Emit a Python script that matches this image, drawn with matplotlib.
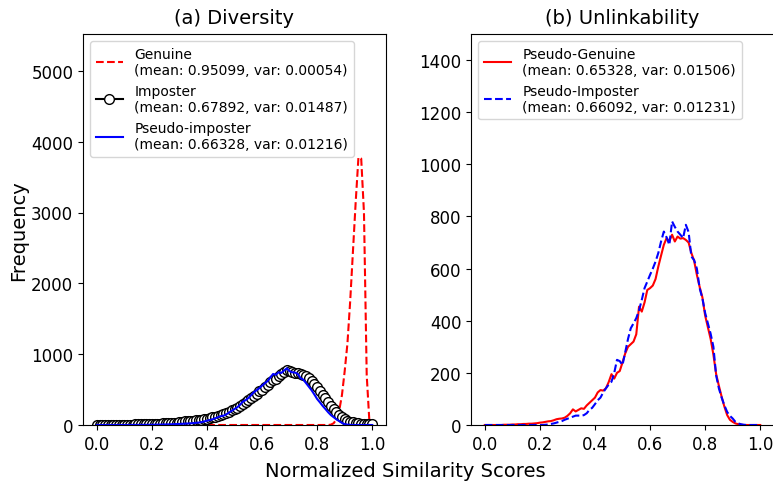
import matplotlib
matplotlib.use('Agg')
import matplotlib.pyplot as plt
import numpy as np

# histogram bins 0.00 .. 1.00 (step 0.01)
scores = np.round(np.linspace(0.0, 1.0, 101), 2)

# ── (a) Diversity ─────────────────────────────────────────────────────────
genuine = [0] * 85 + [5, 25, 80, 200, 420, 760, 1150, 1750, 2450, 3150,
                      3780, 3760, 3000, 700, 30, 0]

imposter = [2, 2, 3, 3, 3, 4, 4, 4, 5, 5,
            6, 6, 7, 7, 8, 9, 10, 11, 12, 13,
            15, 17, 18, 20, 22, 24, 26, 28, 31, 34,
            42, 46, 50, 54, 58, 62, 66, 70, 75, 82,
            90, 100, 108, 118, 130, 145, 158, 170, 185, 205,
            225, 245, 270, 300, 325, 350, 380, 410, 435, 485,
            500, 530, 565, 605, 630, 650, 690, 720, 750, 781,
            765, 750, 740, 730, 720, 706, 690, 660, 626, 585,
            540, 485, 430, 375, 320, 270, 225, 180, 135, 108,
            80, 62, 48, 38, 30, 24, 20, 16, 14, 12,
            12]

pseudo_imposter = [0, 0, 0, 0, 0, 0, 0, 0, 0, 0,
                   0, 0, 1, 1, 1, 1, 2, 2, 2, 3,
                   3, 4, 5, 6, 7, 8, 9, 10, 12, 13,
                   15, 17, 19, 21, 24, 27, 30, 34, 40, 50,
                   61, 70, 80, 95, 110, 125, 131, 150, 175, 200,
                   226, 250, 285, 330, 350, 380, 420, 462, 490, 520,
                   555, 590, 620, 670, 720, 710, 744, 735, 770, 800,
                   760, 744, 740, 720, 660, 640, 590, 540, 490, 430,
                   367, 320, 270, 226, 180, 140, 110, 80, 55, 30,
                   12, 5, 2, 0, 0, 0, 0, 0, 0, 0,
                   0]

# ── (b) Unlinkability ─────────────────────────────────────────────────────
pseudo_genuine = [0, 0, 0, 0, 0, 0, 0, 1, 1, 1,
                  2, 2, 3, 3, 4, 4, 5, 5, 6, 7,
                  9, 10, 12, 14, 15, 18, 22, 24, 25, 28,
                  35, 45, 60, 52, 58, 64, 62, 75, 85, 95,
                  105, 125, 134, 132, 141, 165, 195, 178, 200, 207,
                  240, 275, 300, 310, 320, 348, 454, 435, 470, 518,
                  525, 535, 560, 608, 650, 691, 717, 705, 730, 704,
                  723, 715, 717, 710, 700, 660, 630, 576, 530, 490,
                  420, 375, 330, 270, 195, 150, 108, 70, 38, 20,
                  12, 6, 3, 1, 0, 0, 0, 0, 0, 0,
                  0]

pseudo_imposter_b = [0, 0, 0, 0, 0, 0, 0, 0, 0, 0,
                     0, 0, 0, 0, 0, 0, 0, 0, 0, 0,
                     0, 0, 1, 2, 4, 6, 9, 12, 15, 20,
                     24, 28, 32, 36, 36, 35, 38, 45, 58, 66,
                     80, 95, 105, 125, 141, 155, 166, 200, 250, 245,
                     230, 280, 330, 371, 390, 410, 440, 480, 525, 550,
                     576, 600, 627, 660, 704, 742, 720, 691, 781, 760,
                     742, 730, 717, 768, 740, 646, 633, 600, 525, 486,
                     430, 390, 350, 300, 190, 140, 105, 75, 50, 35,
                     25, 12, 6, 3, 1, 0, 0, 0, 0, 0,
                     0]

fig = plt.figure(figsize=(7.73, 4.85), dpi=100)
ax1 = fig.add_axes([83 / 773, 59 / 485, 303 / 773, 391 / 485])
ax2 = fig.add_axes([471 / 773, 59 / 485, 303 / 773, 391 / 485])

ax1.plot(scores, genuine, '--', color='red', linewidth=1.5,
         label='Genuine\n(mean: 0.95099, var: 0.00054)')
ax1.plot(scores, imposter, '-o', color='black', markerfacecolor='white',
         markersize=7, markeredgewidth=1.0, linewidth=1.5,
         label='Imposter\n(mean: 0.67892, var: 0.01487)')
ax1.plot(scores, pseudo_imposter, '-', color='blue', linewidth=1.5,
         label='Pseudo-imposter\n(mean: 0.66328, var: 0.01216)')
ax1.set_ylim(0, 5520)
ax1.set_xlim(-0.05, 1.05)
ax1.set_title('(a) Diversity', fontsize=14, pad=8)
ax1.set_ylabel('Frequency', fontsize=14, labelpad=2)
ax1.legend(loc='upper left', fontsize=10)

ax2.plot(scores, pseudo_genuine, '-', color='red', linewidth=1.5,
         label='Pseudo-Genuine\n(mean: 0.65328, var: 0.01506)')
ax2.plot(scores, pseudo_imposter_b, '--', color='blue', linewidth=1.5,
         label='Pseudo-Imposter\n(mean: 0.66092, var: 0.01231)')
ax2.set_ylim(0, 1500)
ax2.set_xlim(-0.05, 1.05)
ax2.set_title('(b) Unlinkability', fontsize=14, pad=8)
ax2.legend(loc='upper left', fontsize=10)

for ax in (ax1, ax2):
    ax.tick_params(labelsize=12)
    ax.set_xticks([0.0, 0.2, 0.4, 0.6, 0.8, 1.0])

fig.text(405 / 773, 1 - 472 / 485, 'Normalized Similarity Scores',
         fontsize=14, ha='center', va='center')

plt.savefig('out.png', dpi=100)
plt.close()
